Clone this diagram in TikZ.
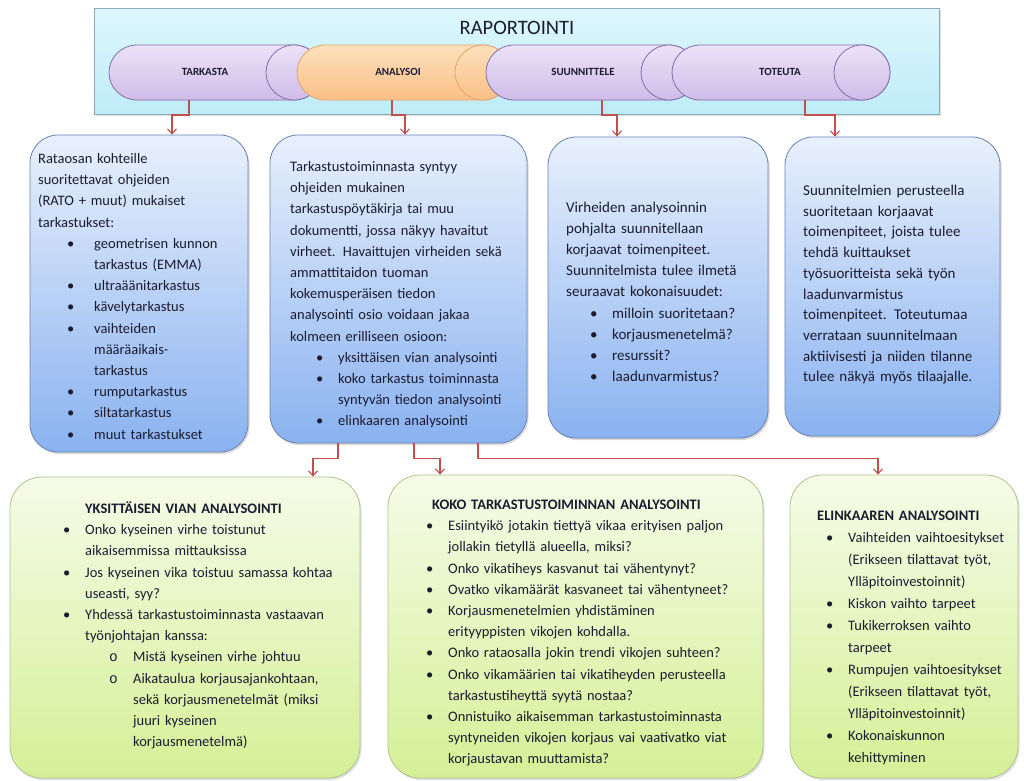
\documentclass[tikz,border=0pt]{standalone}
\usepackage{fontspec}
\setmainfont{Carlito}
\newfontfamily\monofam{Liberation Mono}
\usetikzlibrary{arrows.meta,shadows}
\setlength\parindent{0pt}

\definecolor{linkred}{RGB}{192,80,77}
\definecolor{ink}{RGB}{28,28,48}
\definecolor{bantop}{RGB}{222,247,252}
\definecolor{banbot}{RGB}{190,236,248}
\definecolor{banline}{RGB}{140,170,190}
\definecolor{lavtop}{RGB}{236,226,248}
\definecolor{lavbot}{RGB}{208,188,232}
\definecolor{lavline}{RGB}{130,110,170}
\definecolor{orgtop}{RGB}{253,224,188}
\definecolor{orgbot}{RGB}{250,192,135}
\definecolor{orgline}{RGB}{225,165,110}
\definecolor{blutop}{RGB}{232,240,252}
\definecolor{blubot}{RGB}{138,178,240}
\definecolor{bluline}{RGB}{105,130,180}
\definecolor{grntop}{RGB}{246,251,232}
\definecolor{grnbot}{RGB}{212,240,150}
\definecolor{grnline}{RGB}{175,195,140}

\newenvironment{blist}[3][\textbullet]{%
  \begin{list}{#1}{%
    \setlength\leftmargin{#3}\setlength\labelwidth{#3}\setlength\labelsep{0pt}%
    \setlength\itemsep{0pt}\setlength\parsep{0pt}\setlength\topsep{0pt}\setlength\partopsep{0pt}%
    \renewcommand\makelabel[1]{\hspace*{#2}##1\hfil}}}%
  {\end{list}}

\begin{document}
\begin{tikzpicture}[x=1pt,y=-1pt,
  link/.style={draw=linkred,line width=1.1pt,-{Straight Barb[length=5pt,width=9pt]}},
  banner/.style={draw=banline,top color=bantop,bottom color=banbot,
    drop shadow={shadow xshift=1.5pt,shadow yshift=-1.5pt,opacity=.25}},
  lav/.style={draw=lavline,line width=.8pt,top color=lavtop,bottom color=lavbot},
  org/.style={draw=orgline,line width=.8pt,top color=orgtop,bottom color=orgbot},
  bluebox/.style={draw=bluline,line width=.8pt,rounded corners=28pt,top color=blutop,bottom color=blubot,
    drop shadow={shadow xshift=1.5pt,shadow yshift=-2pt,opacity=.3}},
  greenbox/.style={draw=grnline,line width=.8pt,rounded corners=32pt,top color=grntop,bottom color=grnbot,
    drop shadow={shadow xshift=1.5pt,shadow yshift=-2pt,opacity=.25}},
  caption/.style={text=ink,inner sep=0pt,font=\bfseries\fontsize{11}{13}\selectfont},
  txt/.style={anchor=base west,inner sep=0pt,text width=#1,align=left,text=ink,
    font=\fontsize{14.5}{21.2}\selectfont}]
\useasboundingbox (0,0) rectangle (1024,780);

\node[banner,minimum width=845pt,minimum height=106pt] (rep) at (517,61) {};
\node[text=ink,font=\fontsize{20.5}{24}\selectfont] (raportointi) at (517,28) {RAPORTOINTI};

\draw[lav] (294,45) -- (137,45) arc[start angle=90,end angle=270,x radius=28pt,y radius=27.5pt]
  -- (294,100) arc[start angle=-90,end angle=90,x radius=28pt,y radius=27.5pt] -- cycle;
\draw[lav] (294,72.5) ellipse[x radius=28pt,y radius=27.5pt];
\draw[org] (483,45) -- (325,45) arc[start angle=90,end angle=270,x radius=28pt,y radius=27.5pt]
  -- (483,100) arc[start angle=-90,end angle=90,x radius=28pt,y radius=27.5pt] -- cycle;
\draw[org] (483,72.5) ellipse[x radius=28pt,y radius=27.5pt];
\draw[lav] (669,45) -- (514,45) arc[start angle=90,end angle=270,x radius=28pt,y radius=27.5pt]
  -- (669,100) arc[start angle=-90,end angle=90,x radius=28pt,y radius=27.5pt] -- cycle;
\draw[lav] (669,72.5) ellipse[x radius=28pt,y radius=27.5pt];
\draw[lav] (862,45) -- (700,45) arc[start angle=90,end angle=270,x radius=28pt,y radius=27.5pt]
  -- (862,100) arc[start angle=-90,end angle=90,x radius=28pt,y radius=27.5pt] -- cycle;
\draw[lav] (862,72.5) ellipse[x radius=28pt,y radius=27.5pt];

\node[caption] (tarkasta) at (205,72) {TARKASTA};
\node[caption] (analysoi) at (398,72) {ANALYSOI};
\node[caption] (suunnittele) at (583,72) {SUUNNITTELE};
\node[caption] (toteuta) at (780,72) {TOTEUTA};

\coordinate (c1) at (189,100);
\coordinate (c2) at (392,100);
\coordinate (c3) at (602,100);
\coordinate (c4) at (805,100);

\node[bluebox,minimum width=218pt,minimum height=317pt] (b1) at (139,293.5) {};
\node[bluebox,minimum width=257pt,minimum height=308pt] (b2) at (398.5,289) {};
\node[bluebox,minimum width=220pt,minimum height=301pt] (b3) at (658,287.5) {};
\node[bluebox,minimum width=215pt,minimum height=299pt] (b4) at (892.5,286.5) {};

\node[greenbox,minimum width=350pt,minimum height=301pt] (b5) at (185,627.5) {};
\node[greenbox,minimum width=375pt,minimum height=303pt] (b6) at (575.5,626.5) {};
\node[greenbox,minimum width=228pt,minimum height=303pt] (b7) at (904,626.5) {};

\draw[link] (c1) -- ++(0,15) -| ([xshift=33pt]b1.north);
\draw[link] (c2) -- ++(0,15) -| ([xshift=6.5pt]b2.north);
\draw[link] (c3) -- ++(0,15) -| ([xshift=-41pt]b3.north);
\draw[link] (c4) -- ++(0,15) -| ([xshift=-57.5pt]b4.north);

\draw[link] ([xshift=-60.5pt]b2.south) -- ++(0,15) -| ([xshift=128pt]b5.north);
\draw[link] ([xshift=15.5pt]b2.south) -- ++(0,15) -| ([xshift=-135.5pt]b6.north);
\draw[link] ([xshift=79.5pt]b2.south) -- ++(0,15) -| ([xshift=-26pt]b7.north);

\node[txt=205pt] (t1) at (38,163.5) {Rataosan kohteille\\
suoritettavat ohjeiden\\
(RATO + muut) mukaiset\\
tarkastukset:
\begin{blist}{29pt}{56pt}
\item geometrisen kunnon\\ tarkastus (EMMA)
\item ultraäänitarkastus
\item kävelytarkastus
\item vaihteiden\\ määräaikais-\\ tarkastus
\item rumputarkastus
\item siltatarkastus
\item muut tarkastukset
\end{blist}};

\node[txt=240pt] (t2) at (290,171.5) {Tarkastustoiminnasta syntyy\\
ohjeiden mukainen\\
tarkastuspöytäkirja tai muu\\
dokumentti, jossa näkyy havaitut\\
virheet. Havaittujen virheiden sekä\\
ammattitaidon tuoman\\
kokemusperäisen tiedon\\
analysointi osio voidaan jakaa\\
kolmeen erilliseen osioon:
\begin{blist}{26pt}{48pt}
\item yksittäisen vian analysointi
\item koko tarkastus toiminnasta\\ syntyvän tiedon analysointi
\item elinkaaren analysointi
\end{blist}};

\node[txt=200pt,font=\fontsize{15}{21.1}\selectfont] (t3) at (566,212.5) {Virheiden analysoinnin\\
pohjalta suunnitellaan\\
korjaavat toimenpiteet.\\
Suunnitelmista tulee ilmetä\\
seuraavat kokonaisuudet:
\begin{blist}{24pt}{46pt}
\item milloin suoritetaan?
\item korjausmenetelmä?
\item resurssit?
\item laadunvarmistus?
\end{blist}};

\node[txt=195pt,font=\fontsize{15}{20.7}\selectfont] (t4) at (803,195.5) {Suunnitelmien perusteella\\
suoritetaan korjaavat\\
toimenpiteet, joista tulee\\
tehdä kuittaukset\\
työsuoritteista sekä työn\\
laadunvarmistus\\
toimenpiteet. Toteutumaa\\
verrataan suunnitelmaan\\
aktiivisesti ja niiden tilanne\\
tulee näkyä myös tilaajalle.};

\node[txt=295pt] (t5) at (62,513.5) {\hspace*{23pt}\textbf{YKSITTÄISEN VIAN ANALYSOINTI}
\begin{blist}{1pt}{23pt}
\item Onko kyseinen virhe toistunut\\ aikaisemmissa mittauksissa
\item Jos kyseinen vika toistuu samassa kohtaa\\ useasti, syy?
\item Yhdessä tarkastustoiminnasta vastaavan\\ työnjohtajan kanssa:
  \begin{blist}[{\monofam o}]{24pt}{48pt}
  \item Mistä kyseinen virhe johtuu
  \item Aikataulua korjausajankohtaan,\\ sekä korjausmenetelmät (miksi\\ juuri kyseinen\\ korjausmenetelmä)
  \end{blist}
\end{blist}};

\node[txt=335pt] (t6) at (425,509.5) {\hspace*{7pt}\textbf{KOKO TARKASTUSTOIMINNAN ANALYSOINTI}
\begin{blist}{1pt}{23pt}
\item Esiintyikö jotakin tiettyä vikaa erityisen paljon\\ jollakin tietyllä alueella, miksi?
\item Onko vikatiheys kasvanut tai vähentynyt?
\item Ovatko vikamäärät kasvaneet tai vähentyneet?
\item Korjausmenetelmien yhdistäminen\\ erityyppisten vikojen kohdalla.
\item Onko rataosalla jokin trendi vikojen suhteen?
\item Onko vikamäärien tai vikatiheyden perusteella\\ tarkastustiheyttä syytä nostaa?
\item Onnistuiko aikaisemman tarkastustoiminnasta\\ syntyneiden vikojen korjaus vai vaativatko viat\\ korjaustavan muuttamista?
\end{blist}};

\node[txt=200pt,font=\fontsize{14.5}{22}\selectfont] (t7) at (816,520.5) {\hspace*{1pt}\textbf{ELINKAAREN ANALYSOINTI}
\begin{blist}{10pt}{32pt}
\item Vaihteiden vaihtoesitykset\\ (Erikseen tilattavat työt,\\ Ylläpitoinvestoinnit)
\item Kiskon vaihto tarpeet
\item Tukikerroksen vaihto\\ tarpeet
\item Rumpujen vaihtoesitykset\\ (Erikseen tilattavat työt,\\ Ylläpitoinvestoinnit)
\item Kokonaiskunnon\\ kehittyminen
\end{blist}};
\end{tikzpicture}
\end{document}
